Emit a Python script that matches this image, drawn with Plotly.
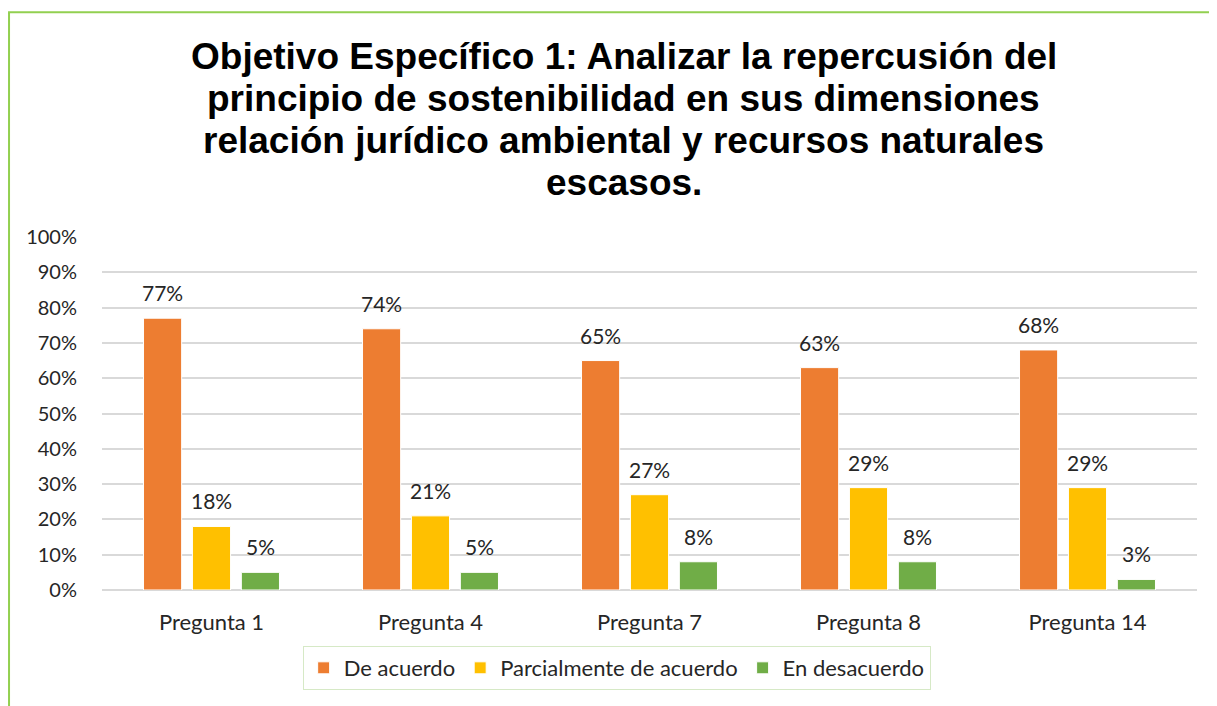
import plotly.graph_objects as go

preguntas = ["Pregunta 1", "Pregunta 4", "Pregunta 7", "Pregunta 8", "Pregunta 14"]
de_acuerdo = [77, 74, 65, 63, 68]
parcialmente = [18, 21, 27, 29, 29]
en_desacuerdo = [5, 5, 8, 8, 3]

series = [
    ("De acuerdo", de_acuerdo, "#ED7D31"),
    ("Parcialmente de acuerdo", parcialmente, "#FFC000"),
    ("En desacuerdo", en_desacuerdo, "#70AD47"),
]

title_lines = [
    "Objetivo Específico 1: Analizar la repercusión del",
    "principio de sostenibilidad en sus dimensiones",
    "relación jurídico ambiental y recursos naturales",
    "escasos.",
]

TICK_FONT = "Lato, Open Sans, sans-serif"
BARGAP, GROUPGAP = 0.33, 0.22

fig = go.Figure()
annotations = []
slot = (1 - BARGAP) / len(series)
for k, (name, vals, color) in enumerate(series):
    fig.add_trace(go.Bar(
        x=preguntas, y=vals, name=name,
        marker=dict(color=color, line=dict(color="white", width=1)),
    ))
    # value labels sit a little above each bar
    off = (k - (len(series) - 1) / 2) * slot
    for i, v in enumerate(vals):
        annotations.append(dict(
            x=i + off, y=v, xref="x", yref="y", text=f"{v}%", showarrow=False,
            yanchor="bottom", yshift=11,
            font=dict(family=TICK_FONT, size=21, color="#262626"),
        ))

# title drawn line by line so the spacing can be tighter than plotly's default
for j, line in enumerate(title_lines):
    annotations.append(dict(
        x=0.4767, y=1.510 - j * 0.119, xref="paper", yref="paper",
        text=f"<b>{line}</b>", showarrow=False, xanchor="center", yanchor="middle",
        font=dict(family="Liberation Sans, Arial, sans-serif", size=37, color="black"),
    ))

# page body adds an 8px offset, margins below compensate for it
fig.update_layout(
    width=1217, height=706,
    margin=dict(l=94, r=28, t=229, b=124),
    paper_bgcolor="white", plot_bgcolor="white",
    barmode="group", bargap=BARGAP, bargroupgap=GROUPGAP,
    xaxis=dict(showgrid=False, showline=False, ticks="outside", ticklen=13,
               tickcolor="rgba(0,0,0,0)",
               tickfont=dict(family=TICK_FONT, size=22, color="#262626")),
    yaxis=dict(range=[0, 100], dtick=10, ticksuffix="%",
               gridcolor="#D9D9D9", gridwidth=1.5,
               zeroline=True, zerolinecolor="#D9D9D9", zerolinewidth=1.5,
               ticks="outside", ticklen=20, tickcolor="rgba(0,0,0,0)",
               tickfont=dict(family=TICK_FONT, size=20, color="#262626")),
    legend=dict(orientation="h", x=0.47, xanchor="center", y=-0.221, yanchor="middle",
                bordercolor="#D6E9C6", borderwidth=1, bgcolor="white",
                font=dict(family=TICK_FONT, size=22, color="#262626")),
    annotations=annotations,
    shapes=[dict(type="rect", xref="paper", yref="paper",
                 x0=-0.0849, y0=-0.6, x1=1.2, y1=1.637,
                 line=dict(color="#92D050", width=2), layer="below")],
)

fig.write_html("out.html")
